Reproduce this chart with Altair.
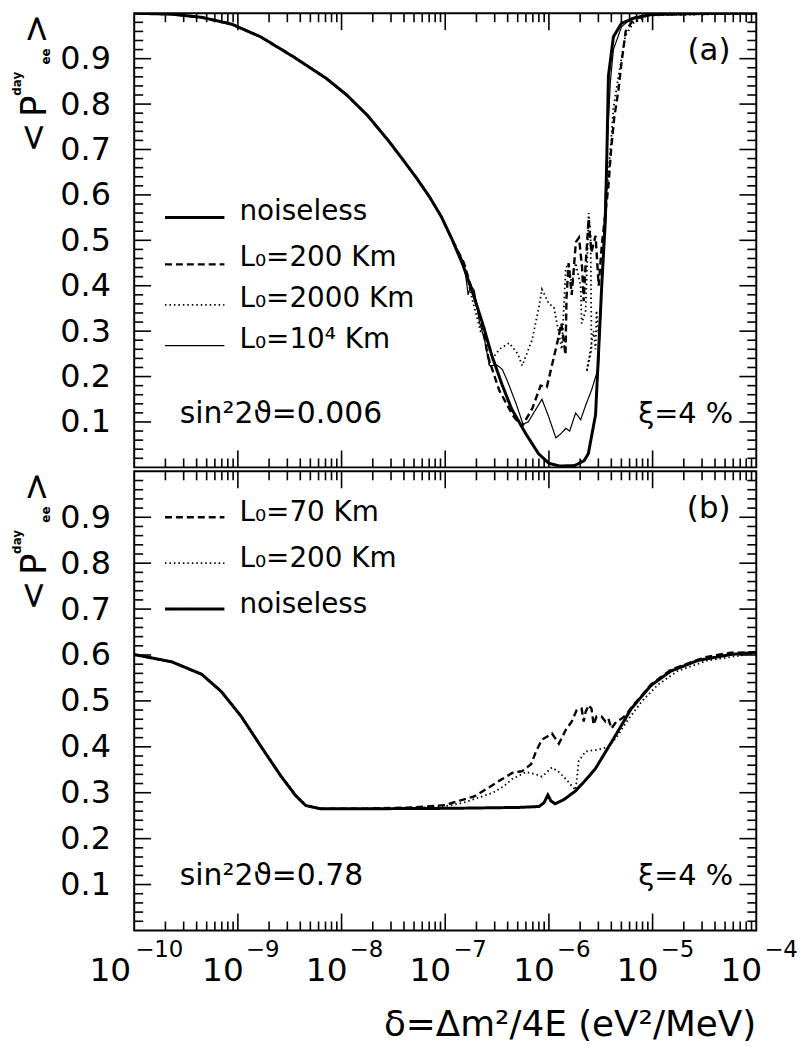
import altair as alt
import pandas as pd

FONT = "DejaVu Sans"
W = 626
HA = 457
HB = 462

# ---------------- data: (log10 delta, <P_ee^day>) ----------------
A_NOISELESS = [(-10.0, 1.000), (-9.64, 0.998), (-9.35, 0.991), (-9.06, 0.976), (-8.78, 0.948),
               (-8.47, 0.905), (-8.15, 0.857), (-7.95, 0.820), (-7.75, 0.775), (-7.55, 0.720),
               (-7.40, 0.675), (-7.27, 0.635), (-7.15, 0.595), (-7.04, 0.553), (-6.94, 0.505),
               (-6.83, 0.446), (-6.73, 0.381),
               (-6.64, 0.317), (-6.55, 0.246), (-6.45, 0.181), (-6.36, 0.129), (-6.22, 0.073),
               (-6.10, 0.030), (-6.00, 0.009), (-5.90, 0.003), (-5.75, 0.004), (-5.66, 0.015),
               (-5.62, 0.030), (-5.55, 0.116), (-5.52, 0.259), (-5.49, 0.403), (-5.455, 0.547),
               (-5.44, 0.700), (-5.426, 0.862), (-5.378, 0.948), (-5.30, 0.978), (-5.17, 0.990),
               (-5.02, 0.997), (-4.5, 1.000), (-4.0, 1.000)]

A_L200_TAIL = [(-6.82, 0.45), (-6.72, 0.375), (-6.64, 0.31), (-6.59, 0.246), (-6.48, 0.17),
               (-6.35, 0.115), (-6.26, 0.09), (-6.16, 0.13), (-6.08, 0.18), (-6.02, 0.177),
               (-5.92, 0.274), (-5.88, 0.317), (-5.84, 0.248), (-5.83, 0.375), (-5.81, 0.45),
               (-5.78, 0.38), (-5.74, 0.496), (-5.71, 0.506), (-5.68, 0.44), (-5.665, 0.366),
               (-5.646, 0.446), (-5.617, 0.547), (-5.59, 0.474), (-5.55, 0.51), (-5.52, 0.40),
               (-5.49, 0.49), (-5.455, 0.56), (-5.426, 0.62), (-5.40, 0.70), (-5.37, 0.77),
               (-5.33, 0.83), (-5.30, 0.89), (-5.26, 0.96), (-5.19, 0.985), (-5.05, 0.997),
               (-4.0, 1.0)]

A_L2000_TAIL = [(-6.82, 0.45), (-6.74, 0.37), (-6.66, 0.30), (-6.62, 0.306), (-6.574, 0.23),
                (-6.478, 0.26), (-6.383, 0.274), (-6.30, 0.25), (-6.258, 0.224), (-6.163, 0.28),
                (-6.096, 0.353), (-6.067, 0.392), (-6.0, 0.36), (-5.952, 0.353), (-5.904, 0.295),
                (-5.876, 0.26), (-5.837, 0.44), (-5.809, 0.446), (-5.78, 0.40), (-5.742, 0.45),
                (-5.694, 0.40), (-5.684, 0.317), (-5.646, 0.345), (-5.617, 0.56), (-5.598, 0.51),
                (-5.589, 0.26), (-5.636, 0.21), (-5.569, 0.30), (-5.55, 0.26), (-5.541, 0.345),
                (-5.522, 0.295), (-5.502, 0.33), (-5.48, 0.45), (-5.45, 0.58), (-5.40, 0.72),
                (-5.378, 0.79), (-5.33, 0.86), (-5.263, 0.95), (-5.187, 0.978), (-5.05, 0.995),
                (-4.0, 1.0)]

A_L1E4_TAIL = [(-6.82, 0.45), (-6.79, 0.40), (-6.78, 0.38), (-6.755, 0.40), (-6.72, 0.39),
               (-6.67, 0.32), (-6.62, 0.28), (-6.574, 0.224), (-6.50, 0.225), (-6.45, 0.216),
               (-6.40, 0.19), (-6.316, 0.14), (-6.25, 0.095), (-6.20, 0.10), (-6.12, 0.13),
               (-6.067, 0.15), (-6.0, 0.11), (-5.933, 0.065), (-5.88, 0.075), (-5.837, 0.086),
               (-5.80, 0.08), (-5.742, 0.12), (-5.694, 0.105), (-5.64, 0.14), (-5.589, 0.17),
               (-5.522, 0.22), (-5.474, 0.50), (-5.44, 0.70), (-5.407, 0.85), (-5.378, 0.92),
               (-5.30, 0.97), (-5.20, 0.99), (-5.0, 0.998), (-4.0, 1.0)]

B_NOISELESS = [(-10.0, 0.601), (-9.636, 0.585), (-9.349, 0.558), (-9.158, 0.52), (-8.967, 0.466),
               (-8.775, 0.40), (-8.584, 0.336), (-8.44, 0.293), (-8.344, 0.272), (-8.201, 0.265),
               (-7.818, 0.265), (-6.957, 0.266), (-6.287, 0.268), (-6.096, 0.27), (-6.048, 0.278),
               (-6.01, 0.295), (-5.98, 0.282), (-5.94, 0.276), (-5.856, 0.285), (-5.742, 0.304),
               (-5.617, 0.335), (-5.55, 0.353), (-5.397, 0.41), (-5.30, 0.447), (-5.206, 0.483),
               (-5.014, 0.534), (-4.823, 0.565), (-4.565, 0.588), (-4.249, 0.601), (-4.0, 0.606)]

B_L70_TAIL = [(-7.3, 0.268), (-7.0, 0.273), (-6.86, 0.283), (-6.72, 0.292), (-6.603, 0.308),
              (-6.45, 0.33), (-6.354, 0.343), (-6.258, 0.347), (-6.172, 0.362), (-6.124, 0.39),
              (-6.067, 0.416), (-6.019, 0.422), (-5.971, 0.429), (-5.904, 0.407), (-5.837, 0.437),
              (-5.78, 0.455), (-5.732, 0.48), (-5.684, 0.483), (-5.665, 0.455), (-5.646, 0.476),
              (-5.617, 0.491), (-5.589, 0.483), (-5.569, 0.448), (-5.541, 0.466), (-5.493, 0.466),
              (-5.455, 0.455), (-5.426, 0.461), (-5.397, 0.44), (-5.349, 0.455), (-5.301, 0.461),
              (-5.254, 0.47), (-5.206, 0.485), (-5.014, 0.536), (-4.823, 0.568), (-4.498, 0.595),
              (-4.249, 0.605), (-4.0, 0.606)]

B_L200_TAIL = [(-7.2, 0.268), (-6.957, 0.272), (-6.80, 0.28), (-6.67, 0.29), (-6.54, 0.30),
               (-6.43, 0.315), (-6.354, 0.33), (-6.22, 0.345), (-6.124, 0.34), (-6.067, 0.335),
               (-5.971, 0.355), (-5.904, 0.345), (-5.837, 0.33), (-5.78, 0.315), (-5.742, 0.306),
               (-5.713, 0.369), (-5.646, 0.39), (-5.522, 0.394), (-5.43, 0.40), (-5.35, 0.42),
               (-5.25, 0.455), (-5.10, 0.50), (-4.95, 0.535), (-4.76, 0.565), (-4.47, 0.588),
               (-4.0, 0.604)]

LEG_A_LABELS = ["noiseless", "L₀=200 Km", "L₀=2000 Km", "L₀=10⁴ Km"]
LEG_A_STYLES = ["noiseless", "dash", "dot", "thin"]
LEG_A_Y = [0.550, 0.447, 0.358, 0.268]
LEG_B_LABELS = ["L₀=70 Km", "L₀=200 Km", "noiseless"]
LEG_B_STYLES = ["dash", "dot", "noiseless"]
LEG_B_Y = [0.9, 0.8, 0.7]
LEG_LINE_X = [-9.703, -9.13]
LEG_TEXT_X = -8.985

Y_MAJOR = [0.1, 0.2, 0.3, 0.4, 0.5, 0.6, 0.7, 0.8, 0.9]
Y_MINOR = [round(0.02 * i, 2) for i in range(1, 50) if i % 5 != 0]
X_MAJOR_EXP = [-9, -8, -7, -6, -5]
X_MINOR = [m * 10.0 ** e for e in range(-10, -4) for m in range(2, 10)]
X_LABEL_EXP = [-10, -9, -8, -7, -6, -5, -4]

STYLES = ["noiseless", "dash", "dot", "thin"]

XS = alt.Scale(type="log", domain=[1e-10, 1e-4])
YS = alt.Scale(domain=[0, 1], nice=False, zero=False)
YAX = alt.Axis(values=Y_MAJOR, format=".1f", labelFontSize=32, labelFont=FONT, labelColor="black",
               ticks=False, tickSize=0, domain=False, grid=False, title=None, labelPadding=24)

DUMMY = pd.DataFrame({"k": [0]})

# A_NOISELESS index of the last point shared by the noisy curves of panel (a)
SPLIT_A = 15
SPLIT_B = 11


def sdf(name, style, pts):
    return pd.DataFrame({"series": name, "style": style, "idx": list(range(len(pts))),
                         "delta": [10.0 ** a for a, b in pts], "p": [b for a, b in pts]})


def xenc():
    return alt.X("delta:Q", scale=XS, axis=None)


def yenc():
    return alt.Y("p:Q", scale=YS, axis=YAX)


DASH = alt.StrokeDash("style:N", scale=alt.Scale(domain=STYLES, range=[[1, 0], [7, 4], [1.5, 3], [1, 0]]),
                      legend=None)
SW = alt.StrokeWidth("style:N", scale=alt.Scale(domain=STYLES, range=[3, 1.2, 1.3, 1.1]), legend=None)


def lines_layer(df):
    return alt.Chart(df).mark_line(color="black", clip=True).encode(
        x=xenc(), y=yenc(), detail="series:N", order="idx:Q", strokeDash=DASH, strokeWidth=SW)


def legend_layers(labels, styles, ys, text_dy):
    rows = []
    for i, (lab, st, yv) in enumerate(zip(labels, styles, ys)):
        for j, lx in enumerate(LEG_LINE_X):
            rows.append({"series": "leg%d" % i, "style": st, "idx": j, "delta": 10.0 ** lx, "p": yv})
    ldf = pd.DataFrame(rows)
    tdf = pd.DataFrame({"t": labels, "p": ys, "delta": [10.0 ** LEG_TEXT_X] * len(labels)})
    ll = alt.Chart(ldf).mark_line(color="black").encode(
        x=xenc(), y=yenc(), detail="series:N", order="idx:Q", strokeDash=DASH, strokeWidth=SW)
    tl = alt.Chart(tdf).mark_text(align="left", baseline="alphabetic", fontSize=28, font=FONT,
                                  color="black", dy=text_dy).encode(x=xenc(), y=yenc(), text="t:N")
    return [ll, tl]


def tick_layers(H):
    ymaj = pd.DataFrame({"p": Y_MAJOR})
    ymin = pd.DataFrame({"p": Y_MINOR})
    xmaj = pd.DataFrame({"delta": [10.0 ** e for e in X_MAJOR_EXP]})
    xmin = pd.DataFrame({"delta": X_MINOR})
    out = []
    for d, L in ((ymaj, 17), (ymin, 9)):
        out.append(alt.Chart(d).mark_rule(color="black", strokeWidth=1.6).encode(
            x=alt.value(0), x2=alt.value(L), y=yenc()))
        out.append(alt.Chart(d).mark_rule(color="black", strokeWidth=1.6).encode(
            x=alt.value(W - L), x2=alt.value(W), y=yenc()))
    for d, L in ((xmaj, 17), (xmin, 9)):
        out.append(alt.Chart(d).mark_rule(color="black", strokeWidth=1.6).encode(
            x=xenc(), y=alt.value(H), y2=alt.value(H - L)))
        out.append(alt.Chart(d).mark_rule(color="black", strokeWidth=1.6).encode(
            x=xenc(), y=alt.value(0), y2=alt.value(L)))
    return out


def ytitle_layers():
    items = [("<", -90, 125, 36, "normal"), ("P", -89, 93.5, 36, "normal"),
             ("day", -114, 71, 12, "bold"), ("ee", -85, 43.5, 12, "bold"),
             (">", -86.5, 15.5, 36, "normal")]
    out = []
    for t, x, y, s, w in items:
        out.append(alt.Chart(DUMMY).mark_text(text=t, angle=270, align="center", baseline="alphabetic",
                                              fontSize=s, fontWeight=w, font=FONT, color="black").encode(
            x=alt.value(x), y=alt.value(y)))
    return out


def annot_layers(sin_text, tag):
    sdf_ = pd.DataFrame({"t": [sin_text], "delta": [10.0 ** -9.56], "p": [0.098]})
    xdf = pd.DataFrame({"t": ["ξ=4 %"], "delta": [10.0 ** -5.139], "p": [0.098]})
    tdf = pd.DataFrame({"t": [tag], "delta": [10.0 ** -4.249], "p": [0.898]})
    return [
        alt.Chart(sdf_).mark_text(align="left", baseline="alphabetic", fontSize=30, font=FONT,
                                  color="black").encode(x=xenc(), y=yenc(), text="t:N"),
        alt.Chart(xdf).mark_text(align="left", baseline="alphabetic", fontSize=29, font=FONT,
                                 color="black").encode(x=xenc(), y=yenc(), text="t:N"),
        alt.Chart(tdf).mark_text(align="right", baseline="alphabetic", fontSize=31, font=FONT,
                                 color="black").encode(x=xenc(), y=yenc(), text="t:N"),
    ]


def xlabel_layers(H):
    lab = pd.DataFrame({"delta": [10.0 ** e for e in X_LABEL_EXP],
                        "base": ["10"] * len(X_LABEL_EXP),
                        "sup": ["−%d" % (-e) for e in X_LABEL_EXP],
                        "e": X_LABEL_EXP})
    first = lab[lab["e"] == -10]
    rest = lab[lab["e"] != -10]
    out = []
    for d, dxb, dxs in ((first, -3, 1), (rest, 6, 8)):
        out.append(alt.Chart(d).mark_text(align="right", baseline="alphabetic", fontSize=33, font=FONT,
                                          color="black", dx=dxb).encode(
            x=xenc(), y=alt.value(H + 51), text="base:N"))
        out.append(alt.Chart(d).mark_text(align="left", baseline="alphabetic", fontSize=23, font=FONT,
                                          color="black", dx=dxs).encode(
            x=xenc(), y=alt.value(H + 27), text="sup:N"))
    out.append(alt.Chart(DUMMY).mark_text(text="δ=Δm²/4E (eV²/MeV)", align="right", baseline="alphabetic",
                                          fontSize=36, font=FONT, color="black").encode(
        x=alt.value(W), y=alt.value(H + 106)))
    return out


# ---------------- panel (a) ----------------
pre_a = A_NOISELESS[:SPLIT_A]
df_a = pd.concat([
    sdf("a_l200", "dash", pre_a + A_L200_TAIL),
    sdf("a_l2000", "dot", pre_a + A_L2000_TAIL),
    sdf("a_l1e4", "thin", pre_a + A_L1E4_TAIL),
    sdf("a_noiseless", "noiseless", A_NOISELESS),
], ignore_index=True)

panel_a = alt.layer(
    lines_layer(df_a),
    *legend_layers(LEG_A_LABELS, LEG_A_STYLES, LEG_A_Y, 2),
    *annot_layers("sin²2ϑ=0.006", "(a)"),
    *tick_layers(HA),
    *ytitle_layers(),
).properties(width=W, height=HA)

# ---------------- panel (b) ----------------
pre_b = B_NOISELESS[:SPLIT_B]
df_b = pd.concat([
    sdf("b_l70", "dash", pre_b + B_L70_TAIL),
    sdf("b_l200", "dot", pre_b + B_L200_TAIL),
    sdf("b_noiseless", "noiseless", B_NOISELESS),
], ignore_index=True)

panel_b = alt.layer(
    lines_layer(df_b),
    *legend_layers(LEG_B_LABELS, LEG_B_STYLES, LEG_B_Y, 4),
    *annot_layers("sin²2ϑ=0.78", "(b)"),
    *tick_layers(HB),
    *ytitle_layers(),
    *xlabel_layers(HB),
).properties(width=W, height=HB)

chart = alt.vconcat(panel_a, panel_b, spacing=0).properties(
    padding={"left": 2, "top": 0, "right": 0, "bottom": 0}
).configure(font=FONT, view=alt.ViewConfig(stroke="black", strokeWidth=2))

chart.save("out.html", embed_options={"renderer": "svg", "actions": False})
